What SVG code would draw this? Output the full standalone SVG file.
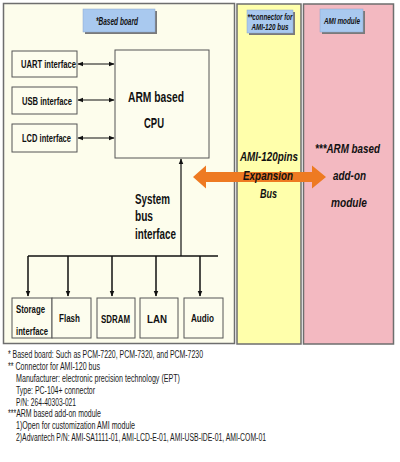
<svg xmlns="http://www.w3.org/2000/svg" width="400" height="462" viewBox="0 0 400 462">
<style>
.panel{stroke:#6e6e6e;stroke-width:1.5}
.box{fill:#fdfdee;stroke:#555;stroke-width:1}
.lbl{fill:#a9c9ef;stroke:#8aa8d0;stroke-width:0.5}
.shadow{fill:#7a7a7a}
.t{font-family:"Liberation Sans Narrow","Liberation Sans",Arial,sans-serif;font-weight:bold;fill:#111}
.it{font-style:italic}
.fn{font-family:"Liberation Sans Narrow","Liberation Sans",Arial,sans-serif;font-size:10px;fill:#1a1a1a}
.ln{stroke:#111;stroke-width:1.5;fill:none}
.thin{stroke:#111;stroke-width:1.2;fill:none}
</style>
<defs>
<marker id="ah" viewBox="0 0 10 10" refX="9" refY="5" markerWidth="6" markerHeight="6" orient="auto-start-reverse" markerUnits="userSpaceOnUse">
<path d="M0,1 L10,5 L0,9 Z" fill="#111"/>
</marker>
</defs>
<rect width="400" height="462" fill="#ffffff"/>
<g id="panel-board">
<rect class="panel" x="3.5" y="3.5" width="231" height="340" fill="#fdfdec"/>
</g>
<g id="panel-connector">
<rect class="panel" x="237" y="4" width="64" height="340" fill="#ffffab"/>
</g>
<g id="panel-ami">
<rect class="panel" x="303.5" y="4" width="90" height="340" fill="#f3b9c1"/>
</g>
<g id="label-based-board">
<rect class="shadow" x="85" y="11" width="72" height="23"/>
<rect class="lbl" x="83" y="9" width="72" height="23"/>
<text class="t it" x="117" y="24.5" font-size="10" text-anchor="middle" textLength="42" lengthAdjust="spacingAndGlyphs">*Based board</text>
</g>
<g id="label-connector">
<rect class="shadow" x="249" y="12" width="46" height="23"/>
<rect class="lbl" x="247" y="10" width="46" height="23"/>
<text class="t it" x="270" y="19.5" font-size="8.5" text-anchor="middle" textLength="45" lengthAdjust="spacingAndGlyphs">**connector for</text>
<text class="t it" x="270" y="29.5" font-size="8.5" text-anchor="middle" textLength="37" lengthAdjust="spacingAndGlyphs">AMI-120 bus</text>
</g>
<g id="label-ami">
<rect class="shadow" x="322" y="11" width="43" height="23"/>
<rect class="lbl" x="320" y="9" width="43" height="23"/>
<text class="t it" x="342" y="23.5" font-size="9" text-anchor="middle" textLength="36" lengthAdjust="spacingAndGlyphs">AMI module</text>
</g>
<g id="uart">
<rect class="box" x="12" y="51" width="65" height="26"/>
<text class="t" x="48.5" y="68" font-size="10.5" text-anchor="middle" textLength="55" lengthAdjust="spacingAndGlyphs">UART interface</text>
</g>
<g id="usb">
<rect class="box" x="12" y="87" width="65" height="27"/>
<text class="t" x="47" y="105" font-size="10.5" text-anchor="middle" textLength="50" lengthAdjust="spacingAndGlyphs">USB interface</text>
</g>
<g id="lcd">
<rect class="box" x="12" y="124" width="65" height="28"/>
<text class="t" x="46.5" y="142" font-size="10.5" text-anchor="middle" textLength="49" lengthAdjust="spacingAndGlyphs">LCD interface</text>
</g>
<g id="cpu">
<rect class="box" x="115" y="50" width="94" height="108"/>
<text class="t" x="156" y="102" font-size="14" text-anchor="middle" textLength="56" lengthAdjust="spacingAndGlyphs">ARM based</text>
<text class="t" x="154" y="128" font-size="14" text-anchor="middle" textLength="20" lengthAdjust="spacingAndGlyphs">CPU</text>
</g>
<g id="storage">
<rect class="box" x="12" y="298" width="40" height="40"/>
<text class="t" x="30.5" y="313" font-size="10.5" text-anchor="middle" textLength="29" lengthAdjust="spacingAndGlyphs">Storage</text>
<text class="t" x="32" y="335" font-size="10.5" text-anchor="middle" textLength="32" lengthAdjust="spacingAndGlyphs">interface</text>
</g>
<g id="flash">
<rect class="box" x="52" y="298" width="39" height="40"/>
<text class="t" x="69.5" y="322" font-size="10.5" text-anchor="middle" textLength="21" lengthAdjust="spacingAndGlyphs">Flash</text>
</g>
<g id="sdram">
<rect class="box" x="97" y="298" width="38" height="40"/>
<text class="t" x="115.5" y="323" font-size="10.5" text-anchor="middle" textLength="29" lengthAdjust="spacingAndGlyphs">SDRAM</text>
</g>
<g id="lan">
<rect class="box" x="140" y="298" width="38" height="40"/>
<text class="t" x="157" y="323" font-size="10.5" text-anchor="middle" textLength="20" lengthAdjust="spacingAndGlyphs">LAN</text>
</g>
<g id="audio">
<rect class="box" x="184" y="298" width="39" height="40"/>
<text class="t" x="202.5" y="322" font-size="10.5" text-anchor="middle" textLength="23" lengthAdjust="spacingAndGlyphs">Audio</text>
</g>
<g id="connectors">
<line class="thin" x1="78" y1="64" x2="114" y2="64" marker-start="url(#ah)" marker-end="url(#ah)"/>
<line class="thin" x1="78" y1="100" x2="114" y2="100" marker-start="url(#ah)" marker-end="url(#ah)"/>
<line class="thin" x1="78" y1="138" x2="114" y2="138" marker-start="url(#ah)" marker-end="url(#ah)"/>
<line class="thin" x1="181" y1="256" x2="181" y2="159" marker-end="url(#ah)"/>
<line class="ln" x1="28" y1="256" x2="218" y2="256"/>
<line class="ln" x1="28" y1="256" x2="28" y2="296" marker-end="url(#ah)"/>
<line class="ln" x1="68" y1="256" x2="68" y2="296" marker-end="url(#ah)"/>
<line class="ln" x1="112" y1="256" x2="112" y2="296" marker-end="url(#ah)"/>
<line class="ln" x1="156" y1="256" x2="156" y2="296" marker-end="url(#ah)"/>
<line class="ln" x1="200" y1="256" x2="200" y2="296" marker-end="url(#ah)"/>
<path id="expansion-arrow" d="M193,177 L206,165.5 L206,172 L312,172 L312,165.5 L326,177 L312,188.5 L312,182 L206,182 L206,188.5 Z" fill="#ee7a22"/>
</g>
<g id="bus-label">
<text class="t" x="135" y="204" font-size="14" textLength="35" lengthAdjust="spacingAndGlyphs">System</text>
<text class="t" x="135" y="221" font-size="14" textLength="18" lengthAdjust="spacingAndGlyphs">bus</text>
<text class="t" x="135" y="239" font-size="14" textLength="41" lengthAdjust="spacingAndGlyphs">interface</text>
</g>
<g id="expansion-label">
<text class="t it" x="269" y="161" font-size="13" text-anchor="middle" fill="#1a1a33" textLength="58" lengthAdjust="spacingAndGlyphs">AMI-120pins</text>
<text class="t it" x="268" y="180" font-size="13" text-anchor="middle" fill="#1a1a33" textLength="50" lengthAdjust="spacingAndGlyphs">Expansion</text>
<text class="t it" x="268.5" y="198" font-size="13" text-anchor="middle" fill="#1a1a33" textLength="17" lengthAdjust="spacingAndGlyphs">Bus</text>
</g>
<g id="ami-module-label">
<text class="t it" x="347.5" y="153" font-size="13" text-anchor="middle" fill="#1a1a33" textLength="65" lengthAdjust="spacingAndGlyphs">***ARM based</text>
<text class="t it" x="349.5" y="180" font-size="13" text-anchor="middle" fill="#1a1a33" textLength="33" lengthAdjust="spacingAndGlyphs">add-on</text>
<text class="t it" x="349" y="207" font-size="13" text-anchor="middle" fill="#1a1a33" textLength="36" lengthAdjust="spacingAndGlyphs">module</text>
</g>
<g id="footnotes">
<text class="fn" x="8" y="358" textLength="195" lengthAdjust="spacingAndGlyphs">* Based board: Such as PCM-7220, PCM-7320, and PCM-7230</text>
<text class="fn" x="8" y="370" textLength="92" lengthAdjust="spacingAndGlyphs">** Connector for AMI-120 bus</text>
<text class="fn" x="16" y="382" textLength="164" lengthAdjust="spacingAndGlyphs">Manufacturer: electronic precision technology (EPT)</text>
<text class="fn" x="16" y="394" textLength="79" lengthAdjust="spacingAndGlyphs">Type: PC-104+ connector</text>
<text class="fn" x="16" y="406" textLength="60" lengthAdjust="spacingAndGlyphs">P/N: 264-40303-021</text>
<text class="fn" x="8" y="417" textLength="93" lengthAdjust="spacingAndGlyphs">***ARM based add-on module</text>
<text class="fn" x="16" y="429" textLength="119" lengthAdjust="spacingAndGlyphs">1)Open for customization AMI module</text>
<text class="fn" x="16" y="441" textLength="250" lengthAdjust="spacingAndGlyphs">2)Advantech P/N: AMI-SA1111-01, AMI-LCD-E-01, AMI-USB-IDE-01, AMI-COM-01</text>
</g>
</svg>
